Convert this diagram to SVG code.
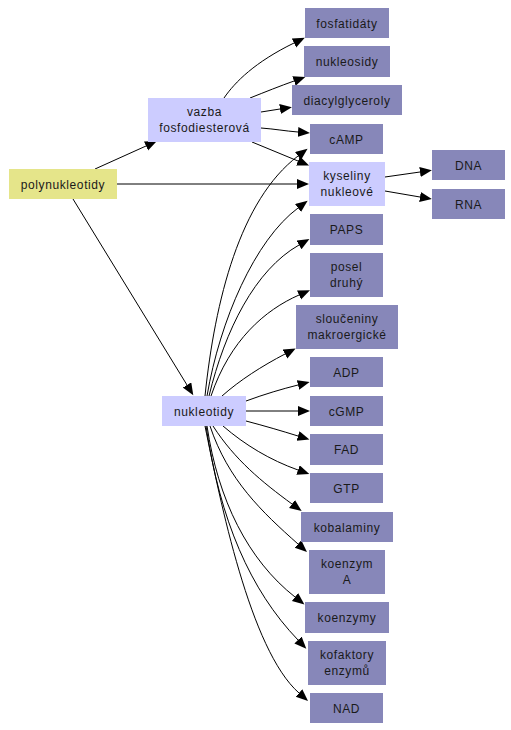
<svg xmlns="http://www.w3.org/2000/svg" width="511" height="730" viewBox="0 0 511 730">
<style>
.n rect{fill:#8787b9;stroke:none}
.l rect{fill:#ccccff;stroke:none}
.y rect{fill:#e5e58a;stroke:none}
text{font-family:"Liberation Sans",Arial,sans-serif;font-size:12px;letter-spacing:0.6px;fill:#1a1a1a;text-anchor:middle}
#edges path{fill:none;stroke:#000;stroke-width:1;marker-end:url(#a)}
</style>
<defs>
<marker id="a" markerUnits="userSpaceOnUse" markerWidth="13" markerHeight="11" refX="0" refY="5" orient="auto">
<path d="M0,0 L12,5 L0,10 z" fill="#000"/>
</marker>
</defs>
<rect width="511" height="730" fill="#fff"/>
<g id="edges">
<path d="M95,169 L146,146"/>
<path d="M117,184 L297,184"/>
<path d="M73,199 L187,385"/>
<path d="M224,98 C235,82 255,62 294,43"/>
<path d="M250,98 C265,92 280,86 294,81"/>
<path d="M261,112 L280,109"/>
<path d="M261,128 C275,129 285,131 298,132"/>
<path d="M252,142 L298,161"/>
<path d="M385,177 L420,172"/>
<path d="M385,191 L420,197"/>
<path d="M205,396 C215,300 240,200 298,156"/>
<path d="M207,396 C220,320 255,240 298,208"/>
<path d="M209,396 C225,330 255,270 299,245"/>
<path d="M211,396 C230,340 265,310 299,295"/>
<path d="M222,396 C240,380 262,366 285,354"/>
<path d="M246,401 C265,394 282,389 298,385"/>
<path d="M246,411 L298,411"/>
<path d="M246,421 C265,426 282,431 298,436"/>
<path d="M223,426 C245,445 270,460 298,470"/>
<path d="M213,426 C235,460 262,482 292,504"/>
<path d="M210,426 C228,480 262,512 298,544"/>
<path d="M207,426 C218,500 248,560 295,597"/>
<path d="M206,426 C220,520 250,590 298,640"/>
<path d="M205,426 C220,500 250,650 299,693"/>
</g>
<g id="polynukleotidy" class="y"><rect x="9" y="169" width="108" height="30"/><text x="63" y="188.5">polynukleotidy</text></g>
<g id="vazba" class="l"><rect x="148" y="98" width="113" height="44"/><text x="204.5" y="116">vazba</text><text x="204.5" y="131.5">fosfodiesterová</text></g>
<g id="fosfatidaty" class="n"><rect x="305" y="8" width="84" height="30"/><text x="347" y="27.5">fosfatidáty</text></g>
<g id="nukleosidy" class="n"><rect x="304" y="46" width="86" height="31"/><text x="347" y="66">nukleosidy</text></g>
<g id="diacylglyceroly" class="n"><rect x="292" y="85" width="110" height="30"/><text x="347" y="104.5">diacylglyceroly</text></g>
<g id="cAMP" class="n"><rect x="310" y="124" width="73" height="30"/><text x="346.5" y="143.5">cAMP</text></g>
<g id="kyseliny" class="l"><rect x="309" y="162" width="76" height="44"/><text x="347" y="180">kyseliny</text><text x="347" y="195.5">nukleové</text></g>
<g id="DNA" class="n"><rect x="432" y="150" width="73" height="30"/><text x="468.5" y="169.5">DNA</text></g>
<g id="RNA" class="n"><rect x="432" y="189" width="73" height="30"/><text x="468.5" y="208.5">RNA</text></g>
<g id="PAPS" class="n"><rect x="310" y="214" width="73" height="31"/><text x="346.5" y="234">PAPS</text></g>
<g id="posel" class="n"><rect x="310" y="253" width="73" height="44"/><text x="346.5" y="271">posel</text><text x="346.5" y="286.5">druhý</text></g>
<g id="slouceniny" class="n"><rect x="296" y="305" width="102" height="44"/><text x="347" y="323">sloučeniny</text><text x="347" y="338.5">makroergické</text></g>
<g id="ADP" class="n"><rect x="310" y="357" width="73" height="30"/><text x="346.5" y="376.5">ADP</text></g>
<g id="nukleotidy" class="l"><rect x="162" y="396" width="84" height="30"/><text x="204" y="415.5">nukleotidy</text></g>
<g id="cGMP" class="n"><rect x="310" y="396" width="73" height="30"/><text x="346.5" y="415.5">cGMP</text></g>
<g id="FAD" class="n"><rect x="310" y="434" width="73" height="31"/><text x="346.5" y="454">FAD</text></g>
<g id="GTP" class="n"><rect x="310" y="473" width="73" height="30"/><text x="346.5" y="492.5">GTP</text></g>
<g id="kobalaminy" class="n"><rect x="301" y="512" width="92" height="30"/><text x="347" y="531.5">kobalaminy</text></g>
<g id="koenzymA" class="n"><rect x="309" y="550" width="76" height="44"/><text x="347" y="568">koenzym</text><text x="347" y="583.5">A</text></g>
<g id="koenzymy" class="n"><rect x="305" y="602" width="84" height="31"/><text x="347" y="622">koenzymy</text></g>
<g id="kofaktory" class="n"><rect x="308" y="641" width="78" height="44"/><text x="347" y="659">kofaktory</text><text x="347" y="674.5">enzymů</text></g>
<g id="NAD" class="n"><rect x="310" y="693" width="73" height="30"/><text x="346.5" y="712.5">NAD</text></g>
</svg>
